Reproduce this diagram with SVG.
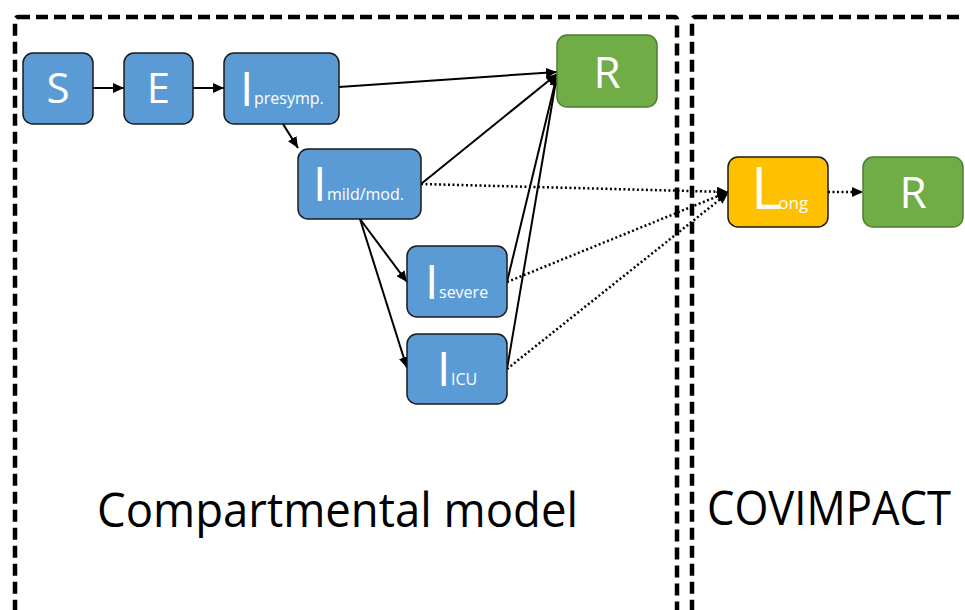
<svg xmlns="http://www.w3.org/2000/svg" width="965" height="610" viewBox="0 0 965 610">
<defs>
<marker id="ah" markerUnits="userSpaceOnUse" markerWidth="12" markerHeight="10" refX="11" refY="5" orient="auto">
<path d="M0,0 L11,5 L0,10 z" fill="#000"/>
</marker>
<style>
.box{fill:#5B9BD5;stroke:#1a1a1a;stroke-width:1.5}
.grn{fill:#70AD47;stroke:#507E32;stroke-width:1.5}
.yel{fill:#FFC000;stroke:#1a1a1a;stroke-width:1.5}
.lbl{font-family:"Open Sans","Noto Sans",sans-serif;fill:#fff}
.big{font-size:48px}
.sub{font-size:16px}
.frame{fill:none;stroke:#000;stroke-width:4.5;stroke-dasharray:12 6}
.solid{fill:none;stroke:#000;stroke-width:2;marker-end:url(#ah)}
.dot{fill:none;stroke:#000;stroke-width:2.5;stroke-dasharray:2 2.5;marker-end:url(#ah)}
.title{font-family:"Open Sans","Noto Sans",sans-serif;font-size:47px;fill:#000}
</style>
</defs>
<rect width="965" height="610" fill="#fff"/>
<g id="frames">
<rect class="frame" x="15" y="17" width="662" height="620" rx="3"/>
<rect class="frame" x="692" y="17" width="320" height="620" rx="3"/>
</g>
<g id="connectors">
<path class="solid" d="M93,88 L124,88"/>
<path class="solid" d="M193,88 L224,88"/>
<path class="solid" d="M339,87 L557,72"/>
<path class="solid" d="M283,124 L298,148"/>
<path class="solid" d="M421,184 L557,74"/>
<path class="solid" d="M360,219 L407,282"/>
<path class="solid" d="M360,219 L407,368"/>
<path class="solid" d="M507,282 L557,75"/>
<path class="solid" d="M507,369 L557,75"/>
<path class="dot" d="M421,184 L728,192"/>
<path class="dot" d="M507,282 L728,192"/>
<path class="dot" d="M507,369 L728,193"/>
<path class="dot" d="M828,192 L863,192"/>
</g>
<g id="S"><rect class="box" x="23" y="53" width="70" height="71" rx="10"/><text class="lbl" x="58" y="103" font-size="42" text-anchor="middle">S</text></g>
<g id="E"><rect class="box" x="124" y="53" width="69" height="71" rx="10"/><text class="lbl" x="158.5" y="103" font-size="42" text-anchor="middle">E</text></g>
<g id="Ipresymp"><rect class="box" x="224" y="53" width="115" height="71" rx="10"/><text class="lbl big" x="240" y="106">I<tspan class="sub" x="254" y="104">presymp.</tspan></text></g>
<g id="Imild"><rect class="box" x="298" y="149" width="123" height="70" rx="10"/><text class="lbl big" x="313" y="201">I<tspan class="sub" x="327" y="200">mild/mod.</tspan></text></g>
<g id="Isevere"><rect class="box" x="407" y="246" width="100" height="71" rx="10"/><text class="lbl big" x="425" y="299">I<tspan class="sub" x="439" y="298">severe</tspan></text></g>
<g id="ICU"><rect class="box" x="407" y="334" width="100" height="70" rx="10"/><text class="lbl big" x="437" y="386">I<tspan class="sub" x="451" y="385">ICU</tspan></text></g>
<g id="R1"><rect class="grn" x="557" y="35" width="100" height="72" rx="10"/><text class="lbl" x="607" y="88" font-size="44" text-anchor="middle">R</text></g>
<g id="Long"><rect class="yel" x="728" y="157" width="100" height="70" rx="10"/><text class="lbl" x="751" y="209" font-size="58">L<tspan font-size="17" dx="-3">ong</tspan></text></g>
<g id="R2"><rect class="grn" x="863" y="157" width="100" height="70" rx="10"/><text class="lbl" x="913" y="208" font-size="44" text-anchor="middle">R</text></g>
<g id="labels">
<text class="title" x="97" y="527" textLength="481" lengthAdjust="spacingAndGlyphs">Compartmental model</text>
<text class="title" x="707" y="525" textLength="244" lengthAdjust="spacingAndGlyphs">COVIMPACT</text>
</g>
</svg>
